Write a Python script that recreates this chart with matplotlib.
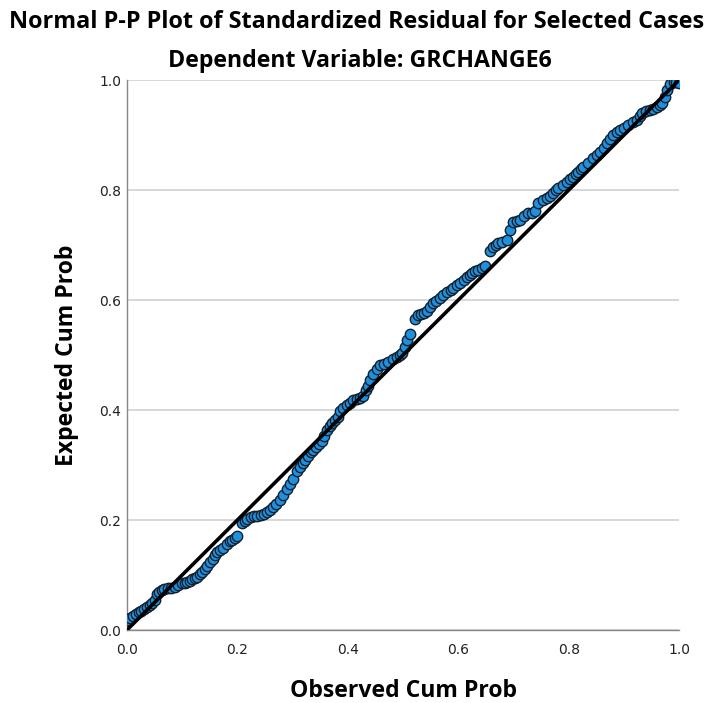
"""
Normal P-P plot of standardized residuals (SPSS style)
"""

import matplotlib
matplotlib.use("Agg")
from matplotlib import pyplot as plt
from matplotlib import font_manager

TITLE = "Normal P-P Plot of Standardized Residual for Selected Cases"
SUBTITLE = "Dependent Variable: GRCHANGE6"
X_LABEL = "Observed Cum Prob"
Y_LABEL = "Expected Cum Prob"
TICKS = [0.0, 0.2, 0.4, 0.6, 0.8, 1.0]

observed = [
    0.002, 0.006, 0.011, 0.016, 0.021, 0.026, 0.031, 0.036, 0.041, 0.045,
    0.050, 0.054, 0.058, 0.063, 0.068, 0.074, 0.080, 0.087, 0.093, 0.100,
    0.105, 0.109, 0.114, 0.118, 0.123, 0.127, 0.132, 0.136, 0.141, 0.145,
    0.150, 0.155, 0.159, 0.163, 0.168, 0.174, 0.181, 0.186, 0.190, 0.195,
    0.200, 0.208, 0.213, 0.218, 0.224, 0.230, 0.236, 0.242, 0.248, 0.254,
    0.259, 0.264, 0.270, 0.277, 0.283, 0.290, 0.295, 0.300, 0.308, 0.313,
    0.318, 0.322, 0.328, 0.333, 0.337, 0.343, 0.348, 0.353, 0.357, 0.362,
    0.367, 0.371, 0.377, 0.382, 0.386, 0.392, 0.399, 0.404, 0.410, 0.416,
    0.422, 0.428, 0.432, 0.436, 0.441, 0.446, 0.452, 0.458, 0.465, 0.473,
    0.481, 0.489, 0.494, 0.498, 0.503, 0.507, 0.513, 0.522, 0.527, 0.532,
    0.537, 0.543, 0.549, 0.554, 0.560, 0.567, 0.573, 0.580, 0.586, 0.591,
    0.597, 0.603, 0.610, 0.616, 0.621, 0.625, 0.631, 0.636, 0.643, 0.649,
    0.658, 0.663, 0.668, 0.672, 0.679, 0.688, 0.694, 0.699, 0.706, 0.712,
    0.719, 0.726, 0.733, 0.739, 0.745, 0.753, 0.761, 0.766, 0.771, 0.776,
    0.781, 0.789, 0.797, 0.803, 0.808, 0.813, 0.817, 0.822, 0.826, 0.835,
    0.844, 0.851, 0.857, 0.864, 0.870, 0.875, 0.880, 0.887, 0.893, 0.900,
    0.908, 0.916, 0.924, 0.929, 0.933, 0.940, 0.947, 0.953, 0.960, 0.965,
    0.969, 0.975, 0.978, 0.984, 0.990, 0.995, 0.999,
]

expected = [
    0.018, 0.022, 0.026, 0.029, 0.032, 0.035, 0.038, 0.042, 0.046, 0.049,
    0.055, 0.066, 0.070, 0.072, 0.074, 0.076, 0.077, 0.079, 0.082, 0.085,
    0.086, 0.088, 0.090, 0.092, 0.094, 0.097, 0.101, 0.106, 0.111, 0.116,
    0.123, 0.130, 0.136, 0.141, 0.146, 0.150, 0.156, 0.161, 0.164, 0.167,
    0.171, 0.195, 0.199, 0.202, 0.205, 0.207, 0.208, 0.209, 0.211, 0.214,
    0.219, 0.224, 0.230, 0.237, 0.246, 0.256, 0.265, 0.274, 0.290, 0.297,
    0.304, 0.310, 0.317, 0.323, 0.328, 0.333, 0.338, 0.343, 0.352, 0.364,
    0.371, 0.376, 0.381, 0.387, 0.399, 0.404, 0.409, 0.413, 0.418, 0.420,
    0.422, 0.425, 0.436, 0.444, 0.455, 0.466, 0.474, 0.481, 0.484, 0.487,
    0.492, 0.496, 0.500, 0.504, 0.515, 0.527, 0.538, 0.566, 0.572, 0.575,
    0.577, 0.580, 0.588, 0.595, 0.599, 0.604, 0.609, 0.614, 0.618, 0.622,
    0.627, 0.631, 0.637, 0.642, 0.646, 0.649, 0.652, 0.655, 0.658, 0.661,
    0.690, 0.696, 0.700, 0.703, 0.706, 0.709, 0.727, 0.741, 0.743, 0.745,
    0.752, 0.758, 0.759, 0.761, 0.777, 0.781, 0.785, 0.790, 0.795, 0.800,
    0.804, 0.810, 0.815, 0.820, 0.824, 0.829, 0.833, 0.838, 0.842, 0.850,
    0.858, 0.864, 0.869, 0.877, 0.885, 0.893, 0.900, 0.905, 0.909, 0.913,
    0.918, 0.923, 0.927, 0.934, 0.940, 0.943, 0.945, 0.948, 0.951, 0.955,
    0.959, 0.969, 0.982, 0.993, 0.996, 0.996, 0.995,
]


def pick_font():
    names = {f.name for f in font_manager.fontManager.ttflist}
    for name in ["Liberation Sans Narrow", "Open Sans", "Liberation Sans"]:
        if name in names:
            return name
    return "DejaVu Sans"


FONT = pick_font()

fig = plt.figure(figsize=(7.09, 7.03), dpi=100)
ax = fig.add_axes([0.179, 0.1038, 0.779, 0.7824])

ax.scatter(observed, expected, s=56, color="#1e90e0", edgecolor="#14202c",
           linewidth=1.0, zorder=3)
ax.plot([0, 1], [0, 1], color="black", linewidth=2.6, zorder=4)

ax.set_xlim(0, 1)
ax.set_ylim(0, 1)
ax.set_xticks(TICKS)
ax.set_yticks(TICKS)
ax.set_xticklabels([f"{t:.1f}" for t in TICKS], fontsize=10, family="DejaVu Sans")
ax.set_yticklabels([f"{t:.1f}" for t in TICKS], fontsize=10, family="DejaVu Sans")
ax.tick_params(length=0, colors="#222222")
ax.tick_params(axis="x", pad=9)
ax.tick_params(axis="y", pad=4)
ax.yaxis.grid(True, color="#d4d4d4", linewidth=1.3, zorder=0)
ax.set_axisbelow(True)
for side in ["top", "right"]:
    ax.spines[side].set_visible(False)
for side in ["left", "bottom"]:
    ax.spines[side].set_color("#888888")
    ax.spines[side].set_linewidth(1.0)

ax.set_xlabel(X_LABEL, fontsize=16.6, fontweight="bold", family=FONT, labelpad=16)
ax.set_ylabel(Y_LABEL, fontsize=16.6, fontweight="bold", family=FONT, labelpad=15)

fig.text(0.503, 0.969, TITLE, ha="center", va="center", fontsize=16.8,
         fontweight="bold", family=FONT)
fig.text(0.508, 0.913, SUBTITLE, ha="center", va="center", fontsize=16.7,
         fontweight="bold", family=FONT)

fig.savefig("out.png", dpi=100)
